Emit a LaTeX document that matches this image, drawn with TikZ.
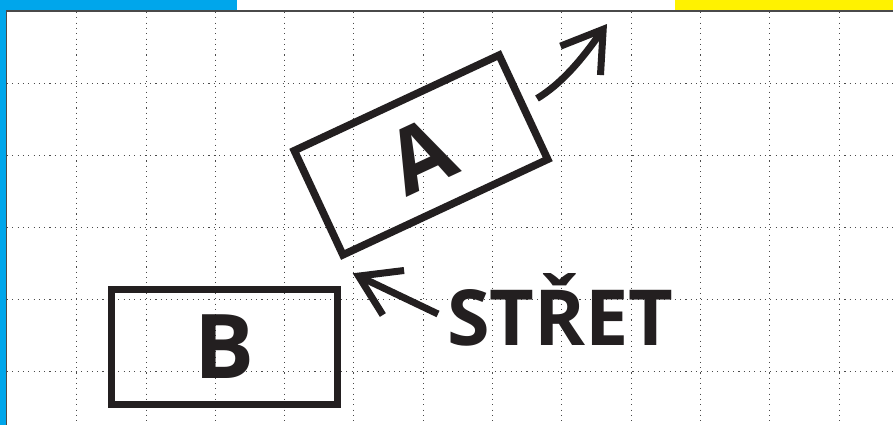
\documentclass[tikz,border=0pt]{standalone}
\usepackage{fontspec}
\setmainfont{Open Sans}
\usetikzlibrary{arrows.meta}
\newdimen\unitsize
\setlength{\unitsize}{0.75pt}
\definecolor{ink}{HTML}{231F20}
\definecolor{sheetblue}{HTML}{00A6EB}
\definecolor{sheetyellow}{HTML}{FFF200}
\definecolor{gridgray}{HTML}{4A4A4A}

\begin{document}
\begin{tikzpicture}[x=\unitsize,y=-\unitsize,baseline=0]
\tikzset{gridline/.style={gridgray, line width=1\unitsize, dash pattern=on 1.1\unitsize off 4.2\unitsize}}%
\tikzset{vehicle/.style={draw=ink, line width=7.5\unitsize, minimum width=226\unitsize, minimum height=115\unitsize, inner sep=0pt, text=ink, font=\bfseries\fontsize{67}{67}\selectfont}}%
\tikzset{motion/.style={draw=ink, line width=7\unitsize, -{Straight Barb[length=29pt, width=37pt]}}}%
\useasboundingbox (0,0) rectangle (893,425);
\fill[white] (0,0) rectangle (893,425);
\fill[sheetblue] (0,0) rectangle (237,10.5);
\fill[sheetblue] (0,0) rectangle (6,425);
\fill[sheetyellow] (675,0) rectangle (893,10.5);
\draw[gridgray, line width=1.5\unitsize] (6.7,425) -- (6.7,11) -- (893,11);
\draw[gridline] (7,83.3) -- (893,83.3);
\draw[gridline] (7,155.4) -- (893,155.4);
\draw[gridline] (7,227.5) -- (893,227.5);
\draw[gridline] (7,299.6) -- (893,299.6);
\draw[gridline] (7,371.7) -- (893,371.7);
\draw[gridline] (76.7,12) -- (76.7,425);
\draw[gridline] (146,12) -- (146,425);
\draw[gridline] (215.3,12) -- (215.3,425);
\draw[gridline] (284.6,12) -- (284.6,425);
\draw[gridline] (353.9,12) -- (353.9,425);
\draw[gridline] (423.2,12) -- (423.2,425);
\draw[gridline] (492.5,12) -- (492.5,425);
\draw[gridline] (561.8,12) -- (561.8,425);
\draw[gridline] (631.1,12) -- (631.1,425);
\draw[gridline] (700.4,12) -- (700.4,425);
\draw[gridline] (769.7,12) -- (769.7,425);
\draw[gridline] (839,12) -- (839,425);
\node[vehicle, rotate=25] (carA) at (421,155) {A};
\node[vehicle] (carB) at (224.3,347) {B};
\node[anchor=base, inner sep=0pt, text=ink, font=\bfseries\fontsize{58}{58}\selectfont] (stret) at (560.5,345) {STŘET};
\coordinate (push) at (537,98.5);
\coordinate (away) at (607,24);
\coordinate (tail) at (438,314);
\coordinate (hit) at (352.7,273.3);
\draw[motion] (push) .. controls (567,80.5) and (589.4,48.3) .. (away);
\draw[motion] (tail) -- (hit);
%\draw[red] (carA.south west) circle (2);
\end{tikzpicture}
\end{document}
